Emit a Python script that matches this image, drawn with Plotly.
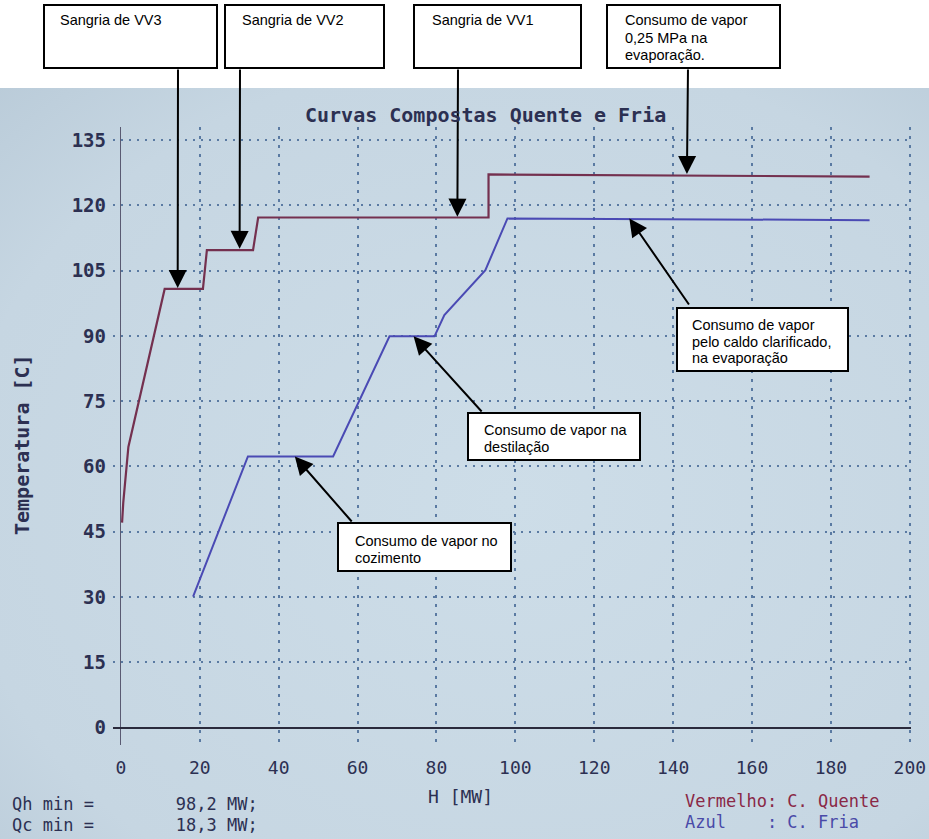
import base64
import plotly.graph_objects as go

# ---------------- data ----------------
hot_H = [0.3, 0.6, 1.9, 11.1, 20.8, 21.8, 33.5, 34.8, 93.2, 93.2, 189.8]
hot_T = [47.1, 51.7, 64.5, 100.8, 100.8, 109.7, 109.7, 117.2, 117.2, 127.1, 126.6]

cold_H = [18.3, 32.2, 53.8, 68.1, 79.5, 82.0, 92.4, 98.0, 189.8]
cold_T = [30.1, 62.3, 62.3, 89.9, 89.9, 94.8, 105.1, 117.0, 116.6]

x_ticks = [0, 20, 40, 60, 80, 100, 120, 140, 160, 180, 200]
y_ticks = [0, 15, 30, 45, 60, 75, 90, 105, 120, 135]

title_text = "Curvas Compostas Quente e Fria"
x_title = "H [MW]"
y_title = "Temperatura [C]"
qh_text = "Qh min =        98,2 MW;"
qc_text = "Qc min =        18,3 MW;"
legend_hot = "Vermelho: C. Quente"
legend_cold = "Azul    : C. Fria"

# callouts: box lines, head point (H, T)
top_boxes = [
    (["Sangria de VV3"], 14.4, 101.0),
    (["Sangria de VV2"], 30.1, 110.0),
    (["Sangria de VV1"], 85.3, 117.4),
    (["Consumo de vapor", "0,25 MPa na", "evaporação."], 143.5, 127.2),
]
side_boxes = [
    (["Consumo de vapor", "pelo caldo clarificado,", "na evaporação"], 128.9, 117.0),
    (["Consumo de vapor na", "destilação"], 74.2, 89.9),
    (["Consumo de vapor no", "cozimento"], 44.1, 62.3),
]

# ---------------- layout geometry ----------------
W, H = 929, 839
L, R, T, B = 113, 911, 127, 745
XR = [-2, 200.3]
YR = [-4, 138]


def px(x):
    return (x - L) / (R - L)


def py(y):
    return (B - y) / (B - T)


def xpix(h):
    return L + (h - XR[0]) / (XR[1] - XR[0]) * (R - L)


def ypix(t):
    return B - (t - YR[0]) / (YR[1] - YR[0]) * (B - T)


MONO = "DejaVu Sans Mono"
SANS = "Liberation Sans, Arial"
DARK = "#2c3052"
GRID = "#5a7aa2"

fig = go.Figure()
fig.add_trace(go.Scatter(x=hot_H, y=hot_T, mode="lines",
                         line=dict(color="#74304f", width=2.2), hoverinfo="skip"))
fig.add_trace(go.Scatter(x=cold_H, y=cold_T, mode="lines",
                         line=dict(color="#4a4ab4", width=2.0), hoverinfo="skip"))

# background "photo" gradient
svg = ('<svg xmlns="http://www.w3.org/2000/svg" width="929" height="751">'
       '<defs><radialGradient id="g" cx="0.55" cy="0.55" r="0.85">'
       '<stop offset="0" stop-color="#cddde8"/>'
       '<stop offset="0.7" stop-color="#c6d6e2"/>'
       '<stop offset="1" stop-color="#b6c8d6"/>'
       '</radialGradient></defs>'
       '<rect width="929" height="751" fill="url(#g)"/></svg>')
src = "data:image/svg+xml;base64," + base64.b64encode(svg.encode()).decode()

fig.add_layout_image(dict(source=src, xref="paper", yref="paper",
                          x=px(0), y=py(88), sizex=W / (R - L), sizey=(H - 88) / (B - T),
                          xanchor="left", yanchor="top", sizing="stretch", layer="below"))

shapes = []
annotations = []

# box pixel rects (layout only)
top_rects = [(44, 5, 217, 68), (225, 5, 384, 68), (414, 5, 581, 68), (607, 5, 780, 68)]
top_text_x = [58, 240, 430, 623]
top_arrow_x = [178, 240, 458, 688]
side_rects = [(677, 308, 848, 371), (468, 413, 640, 460), (338, 523, 511, 571)]
side_text = [(690, 325), (482, 430), (353, 541)]
side_tail = [(690, 306), (483, 413), (353, 523)]

for (x0, y0, x1, y1) in top_rects + side_rects:
    shapes.append(dict(type="rect", xref="paper", yref="paper",
                       x0=px(x0), x1=px(x1), y0=py(y1), y1=py(y0),
                       line=dict(color="black", width=2), fillcolor="white", layer="above"))

ARROW = dict(arrowhead=2, arrowsize=1.8, arrowwidth=2, arrowcolor="black", standoff=0)

for i, (lines, hh, tt) in enumerate(top_boxes):
    for j, ln in enumerate(lines):
        annotations.append(dict(xref="paper", yref="paper", x=px(top_text_x[i]),
                                y=py(20 + j * 17.5), text=ln, showarrow=False,
                                xanchor="left", yanchor="middle",
                                font=dict(family=SANS, size=14.5, color="black")))
    hx, hy = xpix(hh), ypix(tt)
    annotations.append(dict(x=hh, y=tt, xref="x", yref="y", text="", showarrow=True,
                            ax=top_arrow_x[i] - hx, ay=68 - hy, **ARROW))

for i, (lines, hh, tt) in enumerate(side_boxes):
    tx, ty = side_text[i]
    for j, ln in enumerate(lines):
        annotations.append(dict(xref="paper", yref="paper", x=px(tx),
                                y=py(ty + j * 16.5), text=ln, showarrow=False,
                                xanchor="left", yanchor="middle",
                                font=dict(family=SANS, size=14.5, color="black")))
    hx, hy = xpix(hh), ypix(tt)
    sx, sy = side_tail[i]
    annotations.append(dict(x=hh, y=tt, xref="x", yref="y", text="", showarrow=True,
                            ax=sx - hx, ay=sy - hy, **ARROW))

# title and axis titles
annotations.append(dict(xref="paper", yref="paper", x=px(485), y=py(115), text=title_text,
                        showarrow=False, xanchor="center", yanchor="middle",
                        font=dict(family=MONO, size=20, color=DARK, weight="bold")))
annotations.append(dict(xref="paper", yref="paper", x=px(22), y=py(445), text=y_title,
                        showarrow=False, textangle=-90, xanchor="center", yanchor="middle",
                        font=dict(family=MONO, size=20, color=DARK, weight="bold")))
annotations.append(dict(xref="paper", yref="paper", x=px(460), y=py(796), text=x_title,
                        showarrow=False, xanchor="center", yanchor="middle",
                        font=dict(family=MONO, size=18, color=DARK)))


def nb(s):
    return s.replace(" ", "&nbsp;")


for txt, xx, yy, col in [(qh_text, 10, 804, DARK), (qc_text, 10, 825, DARK),
                         (legend_hot, 683, 801, "#8a2846"), (legend_cold, 683, 822, "#4a4aa8")]:
    annotations.append(dict(xref="paper", yref="paper", x=px(xx), y=py(yy), text=nb(txt),
                            showarrow=False, xanchor="left", yanchor="middle",
                            font=dict(family=MONO, size=17, color=col)))

fig.update_layout(
    width=W, height=H,
    margin=dict(l=L, r=W - R, t=T, b=H - B, autoexpand=False),
    paper_bgcolor="white", plot_bgcolor="rgba(0,0,0,0)",
    showlegend=False,
    shapes=shapes, annotations=annotations,
    xaxis=dict(range=XR, tickvals=x_ticks, ticks="", ticklabelstandoff=10, automargin=False,
               showgrid=True, gridcolor=GRID, gridwidth=1.5, griddash="3px,6px",
               zeroline=True, zerolinecolor="#5a5a72", zerolinewidth=1.2,
               showline=False, tickfont=dict(family=MONO, size=18, color=DARK)),
    yaxis=dict(range=YR, tickvals=y_ticks, ticks="", ticklabelstandoff=6, automargin=False,
               showgrid=True, gridcolor=GRID, gridwidth=2, griddash="2px,6px",
               zeroline=True, zerolinecolor="#2a2a3c", zerolinewidth=2,
               showline=False, tickfont=dict(family=MONO, size=19, color=DARK, weight="bold")),
)

fig.write_html("out.html")
